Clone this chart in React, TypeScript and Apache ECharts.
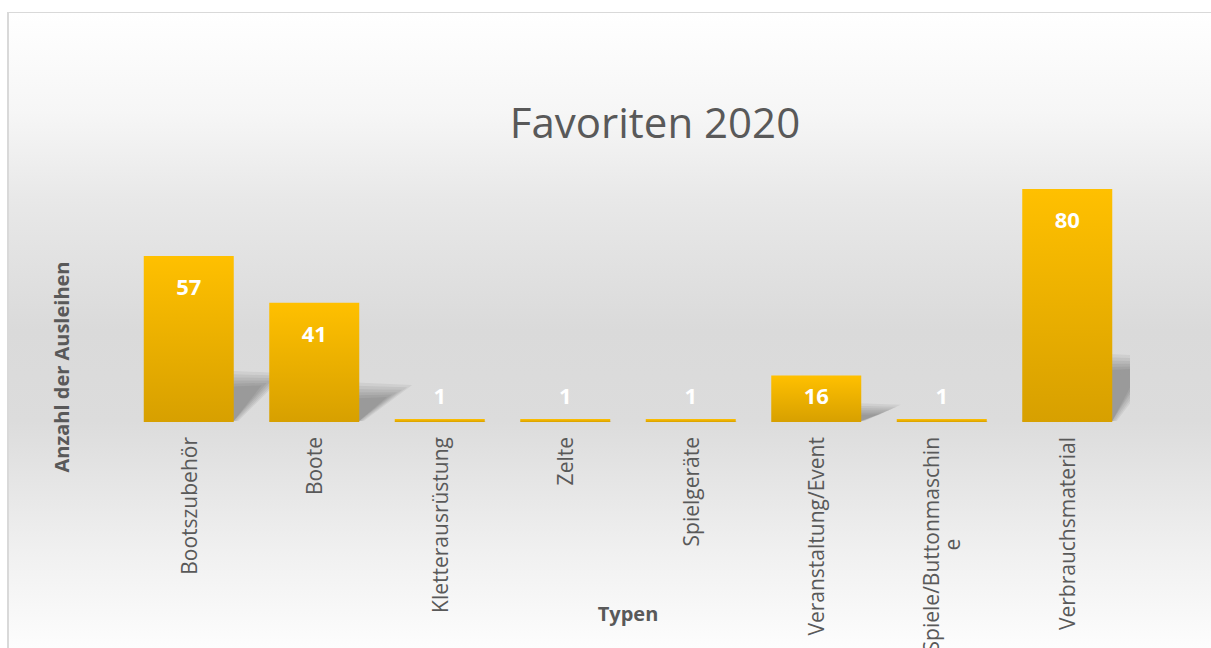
import React, { useEffect, useRef } from "react";
import * as echarts from "echarts";

const categories = [
  "Bootszubehör",
  "Boote",
  "Kletterausrüstung",
  "Zelte",
  "Spielgeräte",
  "Veranstaltung/Event",
  "Spiele/Buttonmaschin\ne",
  "Verbrauchsmaterial",
];
const values = [57, 41, 1, 1, 1, 16, 1, 80];
const titleText = "Favoriten 2020";
const xName = "Typen";
const yName = "Anzahl der Ausleihen";

const FONT = "'Open Sans', 'DejaVu Sans', sans-serif";
const GREY = "#595959";

export default function App() {
  const ref = useRef<HTMLDivElement>(null);
  useEffect(() => {
    if (!ref.current) return;
    const chart = echarts.init(ref.current, null, { renderer: "svg" });
    const barData = values.map((v) => ({
      value: v,
      label:
        v < 20
          ? { position: "insideBottom", distance: 16 }
          : { position: "insideTop", distance: 19 },
    }));
    chart.setOption({
      animation: false,
      backgroundColor: "transparent",
      title: {
        text: titleText,
        left: 650,
        top: 95,
        textAlign: "center",
        textStyle: { fontFamily: FONT, fontSize: 42, fontWeight: "normal", color: GREY },
      },
      grid: {
        left: 126,
        right: 81,
        top: 160,
        bottom: 226,
        containLabel: false,
        outerBoundsMode: "none",
      },
      xAxis: {
        type: "category",
        data: categories,
        name: xName,
        nameLocation: "middle",
        nameGap: 181,
        nameMoveOverlap: false,
        nameTextStyle: { fontFamily: FONT, fontSize: 20, fontWeight: "bold", color: GREY },
        axisLine: { show: false },
        axisTick: { show: false },
        axisLabel: {
          rotate: 90,
          margin: 15,
          interval: 0,
          hideOverlap: false,
          fontFamily: FONT,
          fontSize: 21,
          color: GREY,
          formatter: (s: string) =>
            s.includes("\n")
              ? s.split("\n").map((p) => `{c|${p}}`).join("\n")
              : s,
          rich: {
            c: { align: "center", fontFamily: FONT, fontSize: 21, color: GREY },
          },
        },
      },
      yAxis: {
        type: "value",
        min: 0,
        max: 90,
        show: false,
        splitLine: { show: false },
      },
      graphic: [
        {
          type: "text",
          x: 61,
          y: 367,
          rotation: Math.PI / 2,
          style: {
            text: yName,
            fontFamily: FONT,
            fontSize: 20,
            fontWeight: "bold",
            fill: GREY,
            textAlign: "center",
            textVerticalAlign: "middle",
          },
        },
      ],
      series: [
        {
          type: "custom",
          z: 1,
          clip: true,
          data: values.map((v, i) => [i, v]),
          renderItem: (params: any, api: any) => {
            const i = api.value(0);
            const v = api.value(1);
            const base = api.coord([i, 0]);
            const top = api.coord([i, v]);
            const h = base[1] - top[1];
            const half = 45;
            const dx = Math.min(38, h * 0.6);
            const dy = h * 0.25;
            const s = Math.min(1, h / 60);
            const children = [];
            for (let k = -2; k <= 3; k++) {
              const gx = k * 5 * s;
              const gy = k * 4 * s;
              children.push({
                type: "polygon",
                shape: {
                  points: [
                    [base[0] - half, base[1] - 1],
                    [base[0] + half + Math.max(0, gx * 0.3), base[1] - 1],
                    [base[0] + half + dx + gx, base[1] - dy - gy * 0.6],
                    [base[0] - half + dx, base[1] - dy - gy],
                  ],
                },
                style: { fill: "rgba(0,0,0,0.055)" },
              });
            }
            return { type: "group", children };
          },
        },
        {
          type: "bar",
          z: 3,
          barWidth: 90,
          data: barData,
          itemStyle: {
            color: new echarts.graphic.LinearGradient(0, 0, 0, 1, [
              { offset: 0, color: "#FFC000" },
              { offset: 1, color: "#D7A000" },
            ]),
          },
          label: {
            show: true,
            color: "#ffffff",
            fontFamily: FONT,
            fontSize: 22,
            fontWeight: "bold",
          },
        },
      ],
    });
    return () => chart.dispose();
  }, []);

  return (
    <div
      style={{
        position: "fixed",
        left: 0,
        top: 0,
        width: 1211,
        height: 648,
        overflow: "hidden",
        background: "#ffffff",
      }}
    >
      <div
        style={{
          position: "absolute",
          left: 7,
          top: 12,
          width: 1240,
          height: 680,
          borderLeft: "2px solid #d9d9d9",
          borderTop: "1px solid #d9d9d9",
          background:
            "linear-gradient(to bottom, #ffffff 0px, #f6f6f6 100px, #e8e8e8 188px, #dadada 318px, #dcdcdc 408px, #f0f0f0 538px, #fdfdfd 636px, #ffffff 680px)",
        }}
      />
      <div
        ref={ref}
        style={{ position: "absolute", left: 0, top: 0, width: 1211, height: 648 }}
      />
    </div>
  );
}
